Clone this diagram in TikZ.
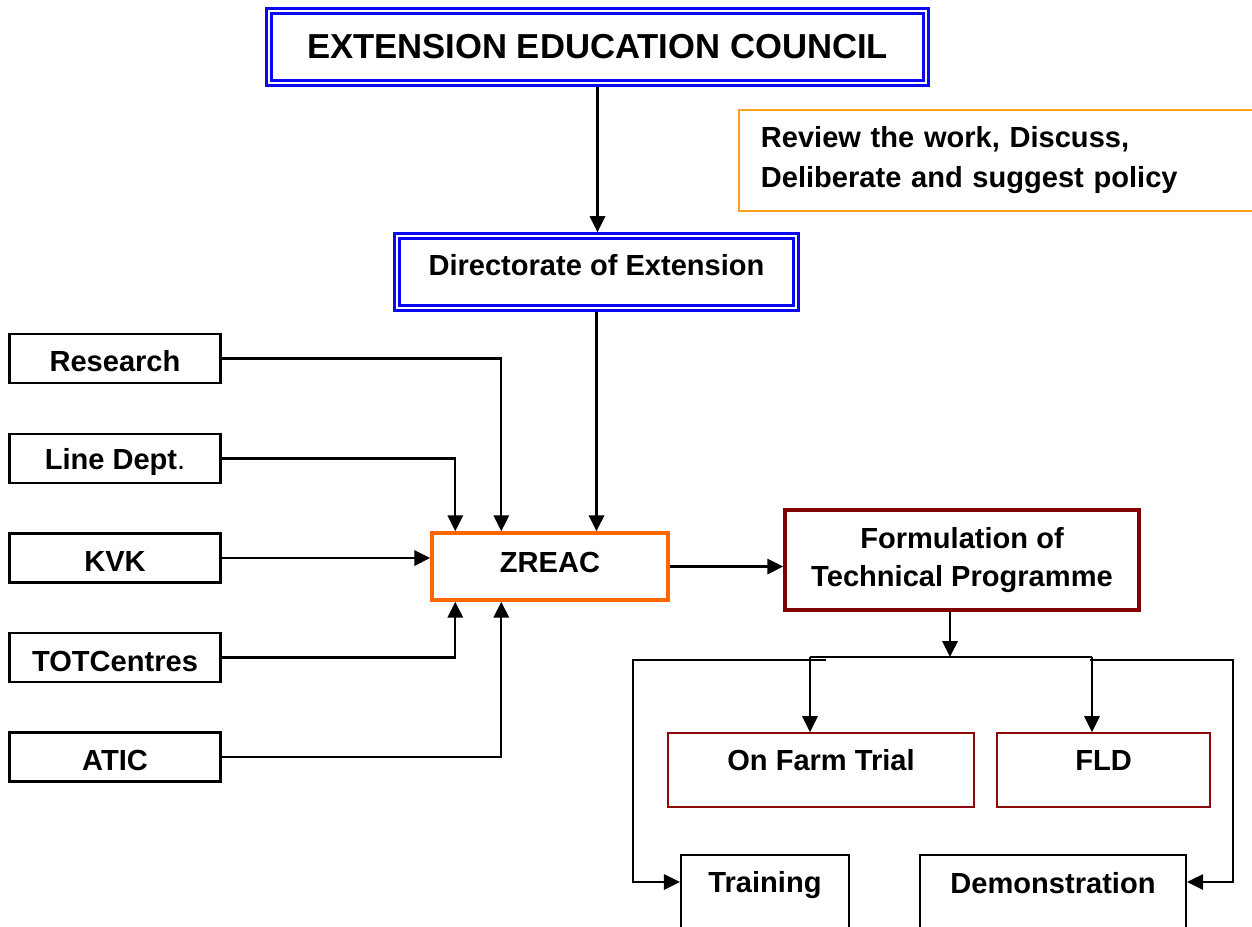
\documentclass[tikz,border=0pt]{standalone}
\usepackage{fontspec}
\setmainfont{Liberation Sans}
\usetikzlibrary{arrows.meta,calc}
\newcommand\pxu{0.75pt}
\definecolor{revorange}{RGB}{250,160,30}
\definecolor{zorange}{RGB}{255,102,0}
\definecolor{formred}{RGB}{128,0,0}
\definecolor{actred}{RGB}{140,10,10}
\definecolor{dblblue}{RGB}{10,10,240}
\begin{document}
\begin{tikzpicture}[x=0.75pt,y=-0.75pt,
  every node/.style={inner sep=0pt},
  every label/.style={inner sep=0pt},
  txt/.style={font=\fontsize{21.8}{28}\selectfont\bfseries},
  bigtxt/.style={font=\fontsize{26}{30}\selectfont\bfseries},
  dblbox/.style={draw=dblblue, double=white, line width=1.9pt, double distance=2pt, outer sep=2.9pt},
  blkbox/.style={draw=black, line width=1.6pt, minimum width=211*\pxu, minimum height=49*\pxu},
  openbox/.style={draw=black, line width=1.6pt},
  revbox/.style={draw=revorange, line width=1.3pt},
  zbox/.style={draw=zorange, line width=2.6pt},
  formbox/.style={draw=formred, line width=2.6pt},
  actbox/.style={draw=actred, line width=1.3pt},
  conn/.style={line width=1.8pt},
  thinconn/.style={line width=1.4pt},
  arr/.style={-{Triangle[length=12pt,width=11.5pt]}},
]
\useasboundingbox (0,0) rectangle (1252,926);
\clip (0,0) rectangle (1252,926);

% top boxes
\node[dblbox, bigtxt, minimum width=657*\pxu, minimum height=72*\pxu] (eec) at (597.5,47) {EXTENSION EDUCATION COUNCIL};
\node[dblbox, minimum width=399*\pxu, minimum height=72*\pxu,
      label={[txt,yshift=7*\pxu]center:Directorate of Extension}] (dir) at (596.5,272) {};
\node[revbox, txt, anchor=north west, minimum width=532*\pxu, minimum height=101*\pxu,
      inner xsep=22*\pxu, text width=488*\pxu, align=left, font=\fontsize{21.8}{30}\selectfont\bfseries] (review) at (738,109)
      {Review the work, Discuss,\\Deliberate and suggest policy};

% left inputs
\node[blkbox, label={[txt,yshift=-3*\pxu]center:Research}] (res) at (115,358.5) {};
\node[blkbox, label={[txt,yshift=-3*\pxu]center:{Line Dept{\mdseries .}}}] (line) at (115,458.5) {};
\node[blkbox, label={[txt,yshift=-3*\pxu]center:KVK}] (kvk) at (115,558) {};
\node[blkbox, label={[txt,yshift=-4*\pxu]center:TOTCentres}] (tot) at (115,657.5) {};
\node[blkbox, label={[txt,yshift=-3*\pxu]center:ATIC}] (atic) at (115,757) {};

% centre
\node[zbox, minimum width=236*\pxu, minimum height=67*\pxu,
      label={[txt,yshift=4*\pxu]center:ZREAC}] (zreac) at (550,566.5) {};
\node[formbox, txt, minimum width=354*\pxu, minimum height=100*\pxu, align=center,
      font=\fontsize{21.8}{28.5}\selectfont\bfseries] (form) at (962,560) {Formulation of\\Technical Programme};

% outputs
\node[actbox, minimum width=306*\pxu, minimum height=74*\pxu,
      label={[txt,yshift=10*\pxu]center:On Farm Trial}] (oft) at (821,770) {};
\node[actbox, minimum width=213*\pxu, minimum height=74*\pxu,
      label={[txt,yshift=10*\pxu]center:FLD}] (fld) at (1103.5,770) {};
\node[openbox, minimum width=168*\pxu, minimum height=95*\pxu,
      label={[txt,yshift=17.5*\pxu]center:Training}] (train) at (765,902.5) {};
\node[openbox, minimum width=266*\pxu, minimum height=95*\pxu,
      label={[txt,yshift=19*\pxu]center:Demonstration}] (demo) at (1053,902.5) {};

% connectors
\draw[conn,arr] (eec.south) -- (eec.south |- dir.north);
\draw[conn,arr] (dir.south) -- (dir.south |- zreac.north);
\draw[conn,arr] (res.east) -| ($(zreac.north west)+(71,0)$);
\draw[conn,arr] (line.east) -| ($(zreac.north west)+(25,0)$);
\draw[conn,arr] (kvk.east) -- (kvk.east -| zreac.west);
\draw[conn,arr] (tot.east) -| ($(zreac.south west)+(25,0)$);
\draw[conn,arr] (atic.east) -| ($(zreac.south west)+(71,0)$);
\draw[conn,arr] (zreac.east) -- (zreac.east -| form.west);

\coordinate (split) at (950,657);
\draw[conn,arr] (split |- form.south) -- (split);
\coordinate (bl) at (810,657);
\coordinate (br) at (1092,657);
\draw[conn] (bl) -- (br);
\draw[conn,arr] (bl) -- (bl |- oft.north);
\draw[conn,arr] (br) -- (br |- fld.north);

\coordinate (ol) at (826,660);
\coordinate (olc) at (633,660);
\coordinate (olb) at (633,882);
\draw[thinconn,arr] (ol) -- (olc) -- (olb) -- (olb -| train.west);
\coordinate (or) at (1090,660);
\coordinate (orc) at (1233,660);
\coordinate (orb) at (1233,882);
\draw[thinconn,arr] (or) -- (orc) -- (orb) -- (orb -| demo.east);
\end{tikzpicture}
\end{document}
